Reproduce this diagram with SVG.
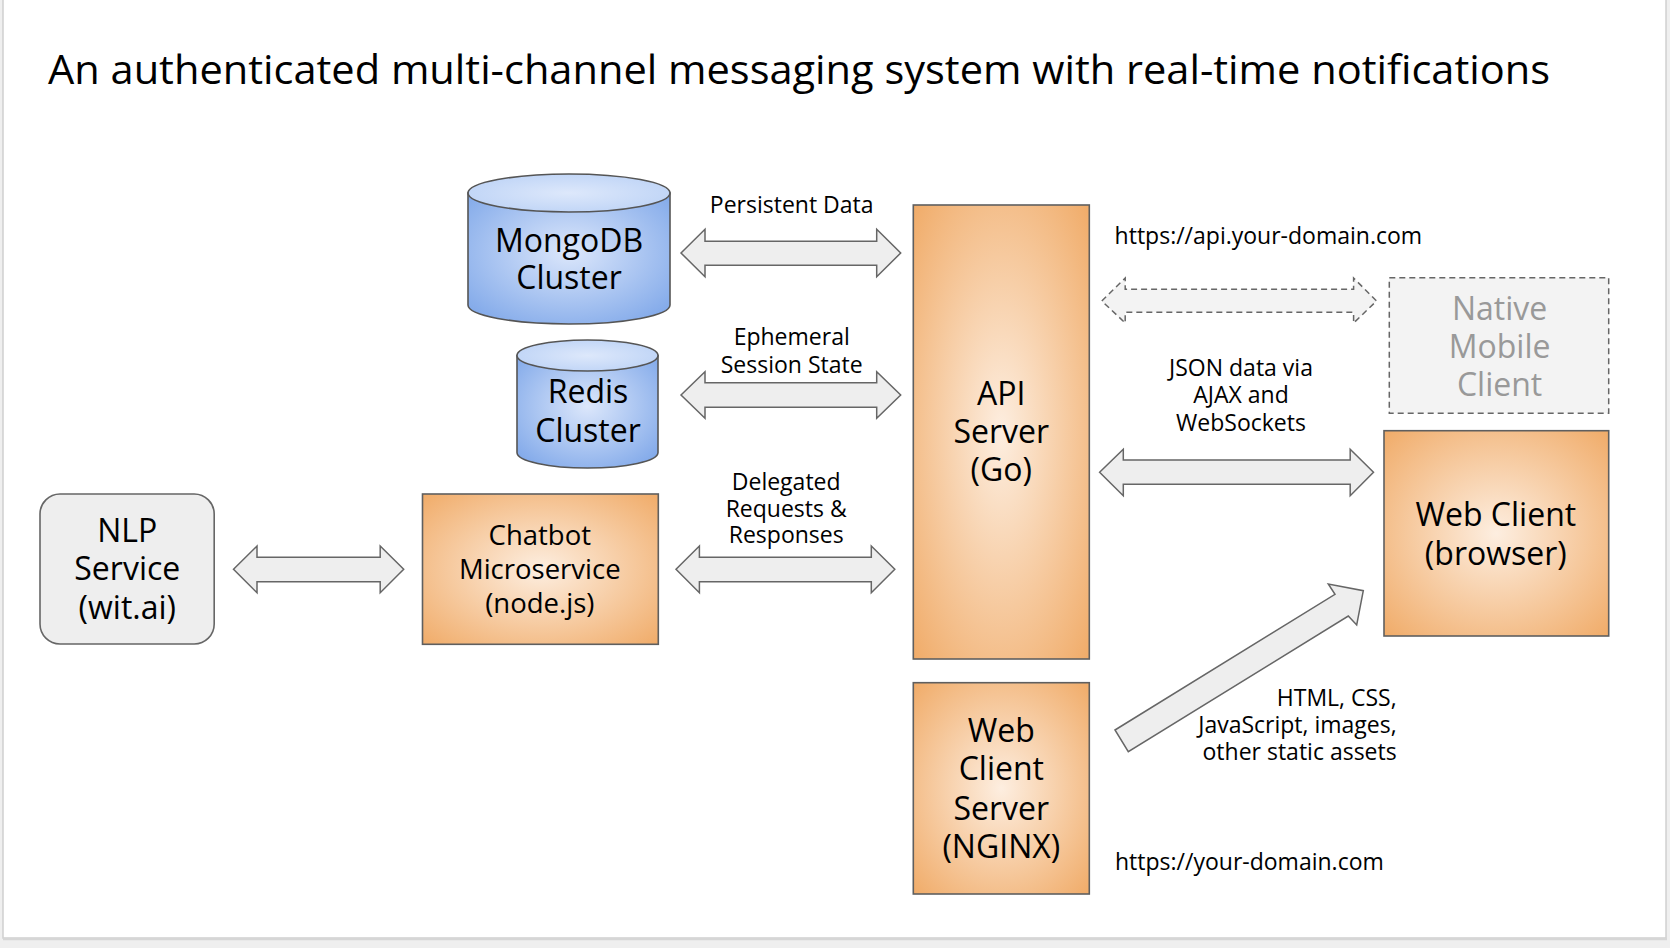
<svg xmlns="http://www.w3.org/2000/svg" width="1670" height="948" viewBox="0 0 1670 948">
<defs>
<radialGradient id="orange" cx="0.5" cy="0.5" r="0.72">
<stop offset="0" stop-color="#fdeee0"/>
<stop offset="1" stop-color="#f0aa66"/>
</radialGradient>
<radialGradient id="blue" cx="0.5" cy="0.45" r="0.72">
<stop offset="0" stop-color="#dce7fb"/>
<stop offset="1" stop-color="#7aa4e8"/>
</radialGradient>
<radialGradient id="bluecap" cx="0.5" cy="0.5" r="0.7">
<stop offset="0" stop-color="#dde8fb"/>
<stop offset="1" stop-color="#b7cff5"/>
</radialGradient>
<style>
.t{font-family:"Open Sans","Noto Sans","DejaVu Sans",sans-serif;fill:#000}
.big{font-size:32px;text-anchor:middle}
.mid{font-size:27.5px;text-anchor:middle}
.sm{font-size:23px}
.c{text-anchor:middle}
.r{text-anchor:end}
.box{fill:url(#orange);stroke:#5f5f5f;stroke-width:1.6}
.cyl{fill:url(#blue);stroke:#555;stroke-width:1.6}
.cap{fill:url(#bluecap);stroke:#555;stroke-width:1.6}
.gray{fill:#eeeeee;stroke:#666;stroke-width:1.6}
.arrow{fill:#eeeeee;stroke:#666;stroke-width:1.5;stroke-linejoin:miter}
.dash{fill:#f3f3f3;stroke:#666;stroke-width:1.5;stroke-dasharray:6 4}
</style>
</defs>
<rect x="0" y="0" width="1670" height="948" fill="#efefef"/>
<rect x="3" y="-2" width="1663" height="940" fill="#ffffff" stroke="#d0d0d0" stroke-width="1.5"/>
<line x1="3" y1="939" x2="1667" y2="939" stroke="#d6d6d6" stroke-width="2.5"/>
<text class="t" x="48" y="84" font-size="41" textLength="1502" lengthAdjust="spacingAndGlyphs">An authenticated multi-channel messaging system with real-time notifications</text>

<g id="connectors">
<polygon class="arrow" points="681,253 705,229.3 705,241.3 876.7,241.3 876.7,229.3 900.7,253 876.7,276.7 876.7,265.3 705,265.3 705,276.7"/>
<polygon class="arrow" points="681,395 705,371.7 705,382.7 876.7,382.7 876.7,371.7 900.7,395 876.7,418.3 876.7,407.3 705,407.3 705,418.3"/>
<polygon class="arrow" points="676,569.3 699.4,546 699.4,557.3 871.3,557.3 871.3,546 894.8,569.3 871.3,592.7 871.3,581.7 699.4,581.7 699.4,592.7"/>
<polygon class="arrow" points="233.5,569.3 257,546 257,557.3 380.2,557.3 380.2,546 403.7,569.3 380.2,592.7 380.2,581.7 257,581.7 257,592.7"/>
<polygon class="arrow" points="1099.6,472.3 1123.3,449.3 1123.3,460 1350.2,460 1350.2,449.3 1373.5,472.3 1350.2,495.7 1350.2,484.3 1123.3,484.3 1123.3,495.7"/>
<polygon class="dash" points="1101.8,301 1125.2,278 1125.2,289.3 1353.6,289.3 1353.6,278 1376.5,301 1353.6,323 1353.6,312.3 1125.2,312.3 1125.2,323"/>
<polygon class="arrow" points="1115,730 1335,594.3 1328.3,584 1363.3,590.7 1356.7,625 1348.3,616 1128.3,751.7"/>
<text class="t sm c" x="791.7" y="212.7">Persistent Data</text>
<text class="t sm c" x="791.7" y="345">Ephemeral</text>
<text class="t sm c" x="791.7" y="372.7">Session State</text>
<text class="t sm c" x="786.2" y="490">Delegated</text>
<text class="t sm c" x="786.2" y="516.7">Requests &amp;</text>
<text class="t sm c" x="786.2" y="543.3">Responses</text>
<text class="t sm" x="1114.6" y="244">https://api.your-domain.com</text>
<text class="t sm c" x="1241" y="376">JSON data via</text>
<text class="t sm c" x="1241" y="403.3">AJAX and</text>
<text class="t sm c" x="1241" y="430.7">WebSockets</text>
<text class="t sm r" x="1396.7" y="705.7">HTML, CSS,</text>
<text class="t sm r" x="1396.7" y="733.3">JavaScript, images,</text>
<text class="t sm r" x="1396.7" y="760">other static assets</text>
<text class="t sm" x="1115" y="870">https://your-domain.com</text>
</g>

<g id="mongodb">
<path class="cyl" d="M468,193 L468,305 A101,19 0 0 0 670,305 L670,193 Z"/>
<ellipse class="cap" cx="569" cy="193" rx="101" ry="19"/>
<text class="t big" x="569" y="252">MongoDB</text>
<text class="t big" x="569" y="289">Cluster</text>
</g>

<g id="redis">
<path class="cyl" d="M517,355.5 L517,452.5 A70.5,15.5 0 0 0 658,452.5 L658,355.5 Z"/>
<ellipse class="cap" cx="587.5" cy="355.5" rx="70.5" ry="15.5"/>
<text class="t big" x="588" y="403">Redis</text>
<text class="t big" x="588" y="442">Cluster</text>
</g>

<g id="nlp">
<rect class="gray" x="40" y="494" width="174.2" height="150" rx="20" ry="20"/>
<text class="t big" x="127.3" y="542.3">NLP</text>
<text class="t big" x="127.3" y="580">Service</text>
<text class="t big" x="127.3" y="619.3">(wit.ai)</text>
</g>

<g id="chatbot">
<rect class="box" x="422.5" y="494" width="235.8" height="150.3"/>
<text class="t mid" x="539.8" y="545">Chatbot</text>
<text class="t mid" x="539.8" y="579.3">Microservice</text>
<text class="t mid" x="539.8" y="613.3">(node.js)</text>
</g>

<g id="api">
<rect class="box" x="913.3" y="205" width="176" height="454"/>
<text class="t big" x="1001.3" y="405">API</text>
<text class="t big" x="1001.3" y="443.3">Server</text>
<text class="t big" x="1001.3" y="480.7">(Go)</text>
</g>

<g id="nginx">
<rect class="box" x="913.3" y="682.7" width="176" height="211.3"/>
<text class="t big" x="1001.3" y="741.7">Web</text>
<text class="t big" x="1001.3" y="780">Client</text>
<text class="t big" x="1001.3" y="820">Server</text>
<text class="t big" x="1001.3" y="858.3">(NGINX)</text>
</g>

<g id="native">
<rect x="1389.3" y="277.7" width="219.4" height="135.6" fill="#f3f3f3" stroke="#666" stroke-width="1.5" stroke-dasharray="6 4"/>
<text class="t big" x="1499.6" y="320" style="fill:#999999">Native</text>
<text class="t big" x="1499.6" y="357.7" style="fill:#999999">Mobile</text>
<text class="t big" x="1499.6" y="395.7" style="fill:#999999">Client</text>
</g>

<g id="webclient">
<rect class="box" x="1384" y="430.7" width="224.7" height="205.3"/>
<text class="t big" x="1495.8" y="526">Web Client</text>
<text class="t big" x="1495.8" y="565">(browser)</text>
</g>
</svg>
